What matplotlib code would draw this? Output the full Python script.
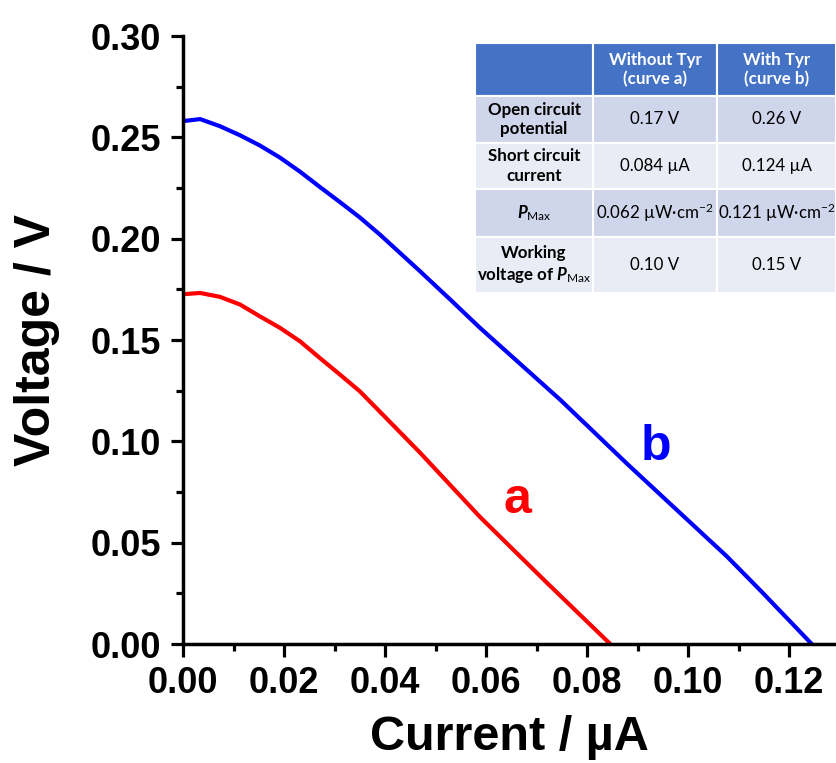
import numpy as np
import matplotlib
matplotlib.use('Agg')
import matplotlib.pyplot as plt
from matplotlib.patches import Rectangle
from matplotlib.ticker import MultipleLocator, FormatStrFormatter

plt.rcParams['font.family'] = ['Liberation Sans', 'DejaVu Sans']
plt.rcParams['mathtext.fontset'] = 'custom'
plt.rcParams['mathtext.rm'] = 'Lato'
plt.rcParams['mathtext.it'] = 'Lato:italic'
plt.rcParams['mathtext.bf'] = 'Lato:bold'
plt.rcParams['mathtext.bfit'] = 'Lato:bold:italic'

# curve a: without Tyr, curve b: with Tyr
current_a = [0.0, 0.0034, 0.0073, 0.0113, 0.0152, 0.0192, 0.0232, 0.0271, 0.0311,
             0.0350, 0.0386, 0.0469, 0.0588, 0.0721, 0.0846]
voltage_a = [0.1726, 0.1732, 0.1713, 0.1675, 0.1617, 0.1560, 0.1493, 0.1411, 0.1329,
             0.1247, 0.1156, 0.0945, 0.0627, 0.0301, 0.0]

current_b = [0.0, 0.0034, 0.0073, 0.0113, 0.0152, 0.0192, 0.0232, 0.0271, 0.0311,
             0.0350, 0.0390, 0.0469, 0.0529, 0.0588, 0.0747, 0.0879, 0.0984, 0.1077,
             0.1143, 0.1245]
voltage_b = [0.2580, 0.2590, 0.2555, 0.2510, 0.2460, 0.2400, 0.2330, 0.2255, 0.2180,
             0.2105, 0.2020, 0.1840, 0.1700, 0.1560, 0.1205, 0.0890, 0.0647, 0.0432,
             0.0265, 0.0]

# table contents
col_heads = ['', 'Without Tyr\n(curve a)', 'With Tyr\n(curve b)']
row_heads = ['Open circuit\npotential', 'Short circuit\ncurrent',
             r'$\mathbfit{P}_{\mathrm{Max}}$', 'Working\nvoltage of $\\mathbfit{P}_{\\mathrm{Max}}$']
vals_a = ['0.17 V', '0.084 µA', '0.062 µW·cm$^{-2}$', '0.10 V']
vals_b = ['0.26 V', '0.124 µA', '0.121 µW·cm$^{-2}$', '0.15 V']

W, H = 836, 763
fig = plt.figure(figsize=(W / 100, H / 100), dpi=100)
ax = fig.add_axes([183 / W, 1 - 644 / H, (W - 183) / W, (644 - 36) / H])

ax.plot(current_a, voltage_a, color='#ff0000', lw=3)
ax.plot(current_b, voltage_b, color='#0000ff', lw=3)
ax.text(0.0663, 0.0647, 'a', color='#ff0000', fontsize=36, fontweight='bold',
        ha='center', va='baseline')
ax.text(0.0937, 0.0909, 'b', color='#0000ff', fontsize=36, fontweight='bold',
        ha='center', va='baseline')

ax.set_xlim(0, 0.1293)
ax.set_ylim(0, 0.30)
ax.xaxis.set_major_locator(MultipleLocator(0.02))
ax.xaxis.set_minor_locator(MultipleLocator(0.01))
ax.yaxis.set_major_locator(MultipleLocator(0.05))
ax.yaxis.set_minor_locator(MultipleLocator(0.025))
ax.xaxis.set_major_formatter(FormatStrFormatter('%.2f'))
ax.yaxis.set_major_formatter(FormatStrFormatter('%.2f'))
for s in ['top', 'right']:
    ax.spines[s].set_visible(False)
for s in ['left', 'bottom']:
    ax.spines[s].set_linewidth(2.5)
ax.tick_params(which='major', length=9, width=2.3, labelsize=26, pad=7)
ax.tick_params(which='minor', length=5, width=2.3)
for lab in ax.get_xticklabels() + ax.get_yticklabels():
    lab.set_fontweight('bold')
ax.set_xlabel('Current / µA', fontsize=35, fontweight='bold', labelpad=10)
ax.set_ylabel('Voltage / V', fontsize=36, fontweight='bold', labelpad=22)

# table drawn in pixel coordinates
xb = [475, 593, 717, 836]
yb = [43, 96, 143, 189, 237, 293]
tax = fig.add_axes([475 / W, 1 - 293 / H, (W - 475) / W, (293 - 43) / H])
tax.set_xlim(475, 836)
tax.set_ylim(293, 43)
tax.axis('off')
fills = ['#4472c4', '#cfd5ea', '#e9ebf5', '#cfd5ea', '#e9ebf5']
rows = [col_heads] + [[row_heads[i], vals_a[i], vals_b[i]] for i in range(4)]
for r in range(5):
    for c in range(3):
        tax.add_patch(Rectangle((xb[c], yb[r]), xb[c + 1] - xb[c], yb[r + 1] - yb[r],
                                facecolor=fills[r], edgecolor='white', lw=1.5))
        txt = rows[r][c]
        if not txt:
            continue
        bold = r == 0 or c == 0
        tax.text((xb[c] + xb[c + 1]) / 2, (yb[r] + yb[r + 1]) / 2, txt,
                 ha='center', va='center', fontsize=12.2, family='Lato',
                 fontweight='bold' if bold else 'normal',
                 color='white' if r == 0 else 'black', linespacing=1.25)

fig.savefig('out.png', dpi=100)
